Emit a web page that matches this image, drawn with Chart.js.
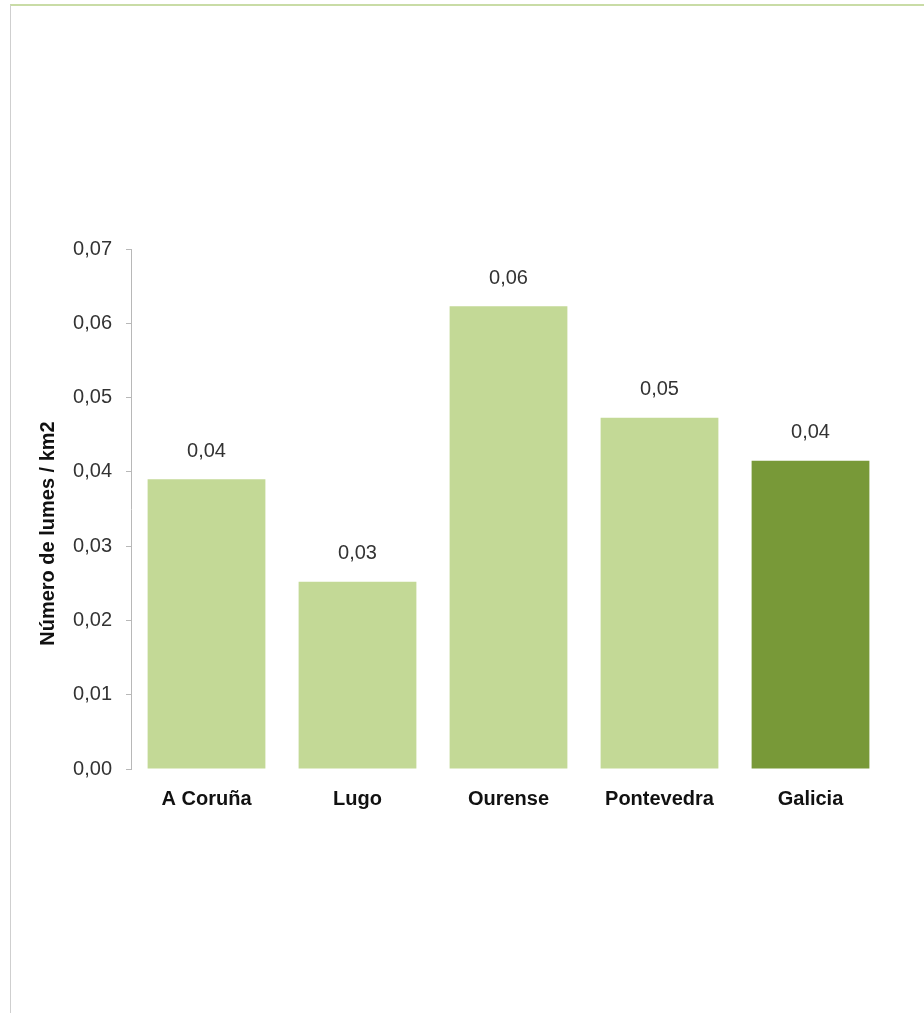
<!DOCTYPE html>
<html lang="gl">
<head>
  <meta charset="UTF-8">
  <title>Número de lumes / km2</title>
  <script src="https://cdn.jsdelivr.net/npm/chart.js"></script>
  <style>
    html, body { margin: 0; padding: 0; background: #fff; }
    #wrap { position: relative; width: 924px; height: 1013px; overflow: hidden; }
    #frame { position: absolute; left: 10px; top: 4px; width: 930px; height: 1020px;
             border-top: 2px solid #c9dca6; border-left: 1px solid #cfcfcf; }
    #chart { position: absolute; left: 0; top: 0; }
  </style>
</head>
<body>
  <div id="wrap">
    <div id="frame"></div>
    <canvas id="chart" width="924" height="1013"></canvas>
  </div>

  <script>
    const provinces = ['A Coruña', 'Lugo', 'Ourense', 'Pontevedra', 'Galicia'];
    const firesPerKm2 = [0.039, 0.0252, 0.0623, 0.0473, 0.0415];
    const yTicks = [0, 0.01, 0.02, 0.03, 0.04, 0.05, 0.06, 0.07];
    const barColors = ['#c3d996', '#c3d996', '#c3d996', '#c3d996', '#789938'];
    const yTitle = 'Número de lumes / km2';

    const FONT = '"Liberation Sans", Arial, sans-serif';
    const fmt = v => v.toFixed(2).replace('.', ',');

    // value labels above each bar + axis title (sits a bit below the axis middle)
    const extras = {
      id: 'extras',
      afterDatasetsDraw(chart) {
        const ctx = chart.ctx;
        const meta = chart.getDatasetMeta(0);
        ctx.save();
        ctx.font = '20px ' + FONT;
        ctx.fillStyle = '#333';
        ctx.textAlign = 'center';
        ctx.textBaseline = 'middle';
        meta.data.forEach((bar, i) => {
          ctx.fillText(fmt(firesPerKm2[i]), bar.x, bar.y - 28);
        });

        const yScale = chart.scales.y;
        ctx.translate(48, yScale.getPixelForValue(0.0317));
        ctx.rotate(-Math.PI / 2);
        ctx.font = 'bold 20px ' + FONT;
        ctx.fillStyle = '#111';
        ctx.fillText(yTitle, 0, 0);
        ctx.restore();
      }
    };

    new Chart(document.getElementById('chart'), {
      type: 'bar',
      data: {
        labels: provinces,
        datasets: [{
          data: firesPerKm2,
          backgroundColor: barColors,
          borderWidth: 0,
          barPercentage: 0.78,
          categoryPercentage: 1
        }]
      },
      options: {
        responsive: false,
        animation: false,
        layout: { padding: { top: 249, right: 38, bottom: 194, left: 0 } },
        plugins: { legend: { display: false }, tooltip: { enabled: false } },
        scales: {
          x: {
            grid: { display: false },
            border: { display: false },
            afterFit: s => { s.height = 50; },
            ticks: {
              padding: 10,
              color: '#111',
              font: { family: FONT, size: 20, weight: 'bold' }
            }
          },
          y: {
            min: 0,
            max: 0.07,
            afterFit: s => { s.width = 131; },
            afterBuildTicks: s => { s.ticks = yTicks.map(v => ({ value: v })); },
            grid: { drawOnChartArea: false, drawTicks: true, tickLength: 5, color: '#b8b8b8' },
            border: { display: true, color: '#b8b8b8' },
            ticks: {
              padding: 14,
              color: '#333',
              font: { family: FONT, size: 20 },
              callback: v => fmt(v)
            }
          }
        }
      },
      plugins: [extras]
    });
  </script>
</body>
</html>
